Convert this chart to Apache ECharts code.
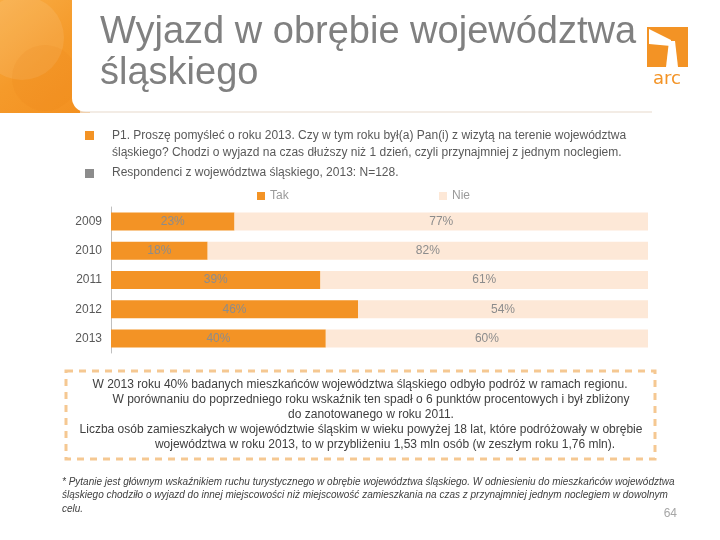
<!DOCTYPE html>
<html><head><meta charset="utf-8">
<script src="https://cdn.jsdelivr.net/npm/echarts@6/dist/echarts.min.js"></script>
<style>html,body{margin:0;padding:0;background:#fff}#c{width:720px;height:540px}</style>
</head><body><div id="c"></div>
<script>
const years = ['2009','2010','2011','2012','2013'];
const tak = [23,18,39,46,40];
const nie = [77,82,61,54,60];
const seriesNames = ['Tak','Nie'];
const titleLines = ['Wyjazd w obrębie województwa','śląskiego'];
const questionLines = ['P1. Proszę pomyśleć o roku 2013. Czy w tym roku był(a) Pan(i) z wizytą na terenie województwa',
  'śląskiego? Chodzi o wyjazd na czas dłuższy niż 1 dzień, czyli przynajmniej z jednym noclegiem.'];
const baseLine = 'Respondenci z województwa śląskiego, 2013: N=128.';
const boxLines = ['W 2013 roku 40% badanych mieszkańców województwa śląskiego odbyło podróż w ramach regionu.',
  'W porównaniu do poprzedniego roku wskaźnik ten spadł o 6 punktów procentowych i był zbliżony',
  'do zanotowanego w roku 2011.',
  'Liczba osób zamieszkałych w województwie śląskim w wieku powyżej 18 lat, które podróżowały w obrębie',
  'województwa w roku 2013, to w przybliżeniu 1,53 mln osób (w zeszłym roku 1,76 mln).'];
const footLines = ['* Pytanie jest głównym wskaźnikiem ruchu turystycznego w obrębie województwa śląskiego. W odniesieniu do mieszkańców województwa',
  'śląskiego chodziło o wyjazd do innej miejscowości niż miejscowość zamieszkania na czas z przynajmniej jednym noclegiem w dowolnym',
  'celu.'];
const pageNo = '64';

const ORANGE = '#F39325', PEACH = '#FDE8D7';
const chart = echarts.init(document.getElementById('c'));
const FF = 'Liberation Sans, Arial, sans-serif';

const boxCenters = [360, 371, 371, 361, 385];
const graphics = [
  {type:'rect', shape:{x:0,y:0,width:90,height:113}, style:{fill:new echarts.graphic.LinearGradient(0,0,1,1,[{offset:0,color:'#F9AD45'},{offset:0.5,color:'#F59A2A'},{offset:1,color:'#F39020'}])}, z:1},
  {type:'circle', shape:{cx:22,cy:38,r:42}, style:{fill:'rgba(255,255,255,0.09)'}, z:2},
  {type:'circle', shape:{cx:45,cy:78,r:33}, style:{fill:'rgba(230,120,20,0.12)'}, z:2},
  {type:'rect', shape:{x:72,y:0,width:648,height:112,r:[0,0,0,14]}, style:{fill:'#fff'}, z:3},
  {type:'line', shape:{x1:80,y1:112,x2:652,y2:112}, style:{stroke:'#efe6dc',lineWidth:1.5}, z:3},
  {type:'text', left:100, top:14, style:{text:titleLines[0], font:'38px '+FF, fill:'#808080'}, z:4},
  {type:'text', left:100, top:55, style:{text:titleLines[1], font:'38px '+FF, fill:'#808080'}, z:4},
  {type:'rect', shape:{x:647,y:27,width:41,height:40}, style:{fill:ORANGE}, z:4},
  {type:'polygon', shape:{points:[[649,29],[671,40],[671,46],[649,44]]}, style:{fill:'#fff'}, z:5},
  {type:'polygon', shape:{points:[[669,41],[675,41],[678,67],[666,67]]}, style:{fill:'#fff'}, z:5},
  {type:'text', x:667, y:79, style:{text:'arc', font:'18px DejaVu Sans, sans-serif', fill:ORANGE, align:'center', verticalAlign:'middle'}, z:4},
  {type:'rect', shape:{x:85,y:131,width:9,height:9}, style:{fill:ORANGE}, z:4},
  {type:'rect', shape:{x:85,y:169,width:9,height:9}, style:{fill:'#8c8c8c'}, z:4},
  {type:'text', x:112, y:136, style:{text:questionLines[0], font:'12px '+FF, fill:'#595959', verticalAlign:'middle'}, z:4},
  {type:'text', x:112, y:153, style:{text:questionLines[1], font:'12px '+FF, fill:'#595959', verticalAlign:'middle'}, z:4},
  {type:'text', x:112, y:173, style:{text:baseLine, font:'12px '+FF, fill:'#595959', verticalAlign:'middle'}, z:4},
  {type:'rect', shape:{x:66,y:371,width:589,height:88}, style:{fill:'none', stroke:'#F5C892', lineWidth:3, lineDash:[7,6]}, z:4},
  {type:'text', x:677, y:514, style:{text:pageNo, font:'12px '+FF, fill:'#a6a6a6', align:'right', verticalAlign:'middle'}, z:4}
];
boxLines.forEach((t,i)=>{
  graphics.push({type:'text', x:boxCenters[i], y:385+i*15, style:{text:t, font:'12px '+FF, fill:'#404040', align:'center', verticalAlign:'middle'}, z:4});
});
footLines.forEach((t,i)=>{
  graphics.push({type:'text', x:62, y:482+i*13.5, style:{text:t, font:'italic 10px '+FF, fill:'#404040', verticalAlign:'middle'}, z:4});
});

chart.setOption({
  animation:false,
  legend:[
    {data:[seriesNames[0]], left:252, top:185, icon:'rect', itemWidth:8, itemHeight:8, itemGap:0, textStyle:{color:'#9a9a9a', fontSize:12, fontFamily:FF}},
    {data:[seriesNames[1]], left:434, top:185, icon:'rect', itemWidth:8, itemHeight:8, itemGap:0, textStyle:{color:'#9a9a9a', fontSize:12, fontFamily:FF}}
  ],
  grid:{left:111, right:72, top:207, bottom:187},
  xAxis:{type:'value', min:0, max:100, show:false},
  yAxis:{type:'category', data:years, inverse:true,
    axisLine:{lineStyle:{color:'#bfbfbf'}},
    axisTick:{length:4, lineStyle:{color:'#bfbfbf'}},
    axisLabel:{color:'#595959', fontSize:12, fontFamily:FF, margin:9}},
  series:[
    {name:seriesNames[0], type:'bar', stack:'s', data:tak, barWidth:18, itemStyle:{color:ORANGE},
      label:{show:true, position:'inside', formatter:'{c}%', color:'#8c8c8c', fontSize:12, fontFamily:FF}},
    {name:seriesNames[1], type:'bar', stack:'s', data:nie, barWidth:18, itemStyle:{color:PEACH},
      label:{show:true, position:'inside', formatter:'{c}%', color:'#8c8c8c', fontSize:12, fontFamily:FF}}
  ],
  graphic:graphics
});
</script></body></html>
